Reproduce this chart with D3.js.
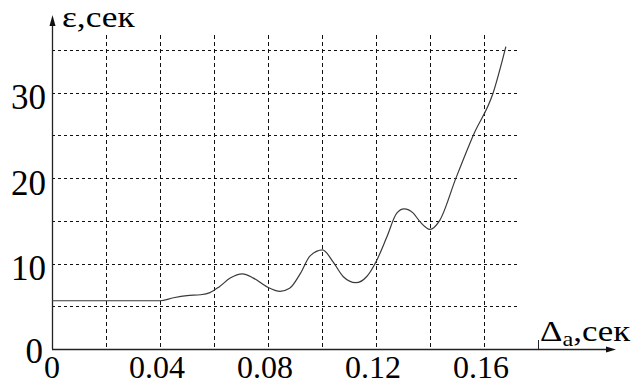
<!DOCTYPE html>
<html>
<head>
<meta charset="utf-8">
<script src="https://cdn.jsdelivr.net/npm/d3@7"></script>
<style>
  html, body { margin: 0; padding: 0; background: #fff; }
  svg { display: block; }
</style>
</head>
<body>
<svg id="chart" width="636" height="385"></svg>
<script>
// Error ε versus delay Δa
const deltaA = [0, 0.02, 0.04, 0.045, 0.05, 0.055, 0.0585, 0.062, 0.066, 0.0705, 0.0746,
  0.0795, 0.0845, 0.088, 0.092, 0.0956, 0.1002, 0.1041, 0.1079, 0.1125, 0.1165, 0.1203,
  0.124, 0.1277, 0.1304, 0.1338, 0.1363, 0.14, 0.1435, 0.1496, 0.156, 0.1634, 0.1681];
const epsilon = [5.65, 5.65, 5.65, 6.0, 6.25, 6.35, 6.6, 7.3, 8.3, 8.8, 8.3,
  7.3, 6.75, 7.1, 8.85, 10.9, 11.6, 10.2, 8.46, 7.76, 8.46, 10.4,
  13.1, 15.9, 16.4, 15.9, 14.9, 14.0, 15.0, 20, 25, 30, 35.4];

const xGridTicks = [0.02, 0.04, 0.06, 0.08, 0.10, 0.12, 0.14, 0.16];
const xLabelTicks = [0, 0.04, 0.08, 0.12, 0.16];
const xLabels = ["0", "0.04", "0.08", "0.12", "0.16"];
const yGridTicks = [5, 10, 15, 20, 25, 30, 35];
const yLabelTicks = [0, 10, 20, 30];
const yLabels = ["0", "10", "20", "30"];
const xExtraTick = 0.18;
const yTitle = "ε,сек";
const xTitle = "Δ";
const xTitleSub = "a";
const xTitleRest = ",сек";

const serif = "Liberation Serif";

const svg = d3.select("#chart");
const x = d3.scaleLinear().domain([0, 0.18]).range([52, 538]);
const y = d3.scaleLinear().domain([0, 35]).range([349, 50]);

const gridColor = "#111";

// dashed grid
svg.append("g").selectAll("line").data(yGridTicks).join("line")
  .attr("x1", x(0)).attr("x2", 520)
  .attr("y1", d => Math.round(y(d)) + 0.5).attr("y2", d => Math.round(y(d)) + 0.5)
  .attr("stroke", gridColor).attr("stroke-width", 1)
  .attr("stroke-dasharray", "3,3");

svg.append("g").selectAll("line").data(xGridTicks).join("line")
  .attr("x1", d => Math.round(x(d)) + 0.5).attr("x2", d => Math.round(x(d)) + 0.5)
  .attr("y1", 35).attr("y2", y(0))
  .attr("stroke", gridColor).attr("stroke-width", 1)
  .attr("stroke-dasharray", "4,3");

// axes
svg.append("line").attr("x1", x(0)).attr("x2", 608)
  .attr("y1", y(0) + 0.5).attr("y2", y(0) + 0.5)
  .attr("stroke", "#222").attr("stroke-width", 1.3);
svg.append("path").attr("d", "M616,349.5 L606,346.5 L606,352.5 Z").attr("fill", "#111");

svg.append("line").attr("x1", x(0) + 0.5).attr("x2", x(0) + 0.5)
  .attr("y1", y(0)).attr("y2", 24)
  .attr("stroke", "#222").attr("stroke-width", 1.3);
svg.append("path").attr("d", "M52.5,15 L49.5,26 L55.5,26 Z").attr("fill", "#111");

// extra tick at 0.18
svg.append("line").attr("x1", Math.round(x(xExtraTick)) + 0.5).attr("x2", Math.round(x(xExtraTick)) + 0.5)
  .attr("y1", y(0) - 9).attr("y2", y(0)).attr("stroke", "#222").attr("stroke-width", 1);

// curve
const line = d3.line().x((d, i) => x(deltaA[i])).y(d => y(d)).curve(d3.curveMonotoneX);
svg.append("path").datum(epsilon).attr("d", line)
  .attr("fill", "none").attr("stroke", "#3a3a3a").attr("stroke-width", 1.2);

// tick labels
svg.append("g").selectAll("text").data(yLabelTicks).join("text")
  .style("font-family", serif)
  .attr("x", d => d === 0 ? 43 : 46)
  .attr("y", d => y(d) + (d === 0 ? 14 : 16.5))
  .attr("text-anchor", "end").attr("font-size", 35)
  .text((d, i) => yLabels[i]);

svg.append("g").selectAll("text").data(xLabelTicks).join("text")
  .style("font-family", serif)
  .attr("x", d => x(d) - (d === 0 ? 0 : 3))
  .attr("y", 378)
  .attr("text-anchor", "middle").attr("font-size", 32)
  .text((d, i) => xLabels[i]);

// axis titles (slightly widened lettering)
svg.append("text").style("font-family", serif)
  .attr("transform", "translate(62,27) scale(1.18,1)")
  .attr("font-size", 30).text(yTitle);

const xt = svg.append("text").style("font-family", serif)
  .attr("transform", "translate(540,341) scale(1.16,1)")
  .attr("font-size", 30);
xt.append("tspan").text(xTitle);
xt.append("tspan").attr("font-size", 21).attr("dy", 5).text(xTitleSub);
xt.append("tspan").attr("dy", -5).text(xTitleRest);
</script>
</body>
</html>
